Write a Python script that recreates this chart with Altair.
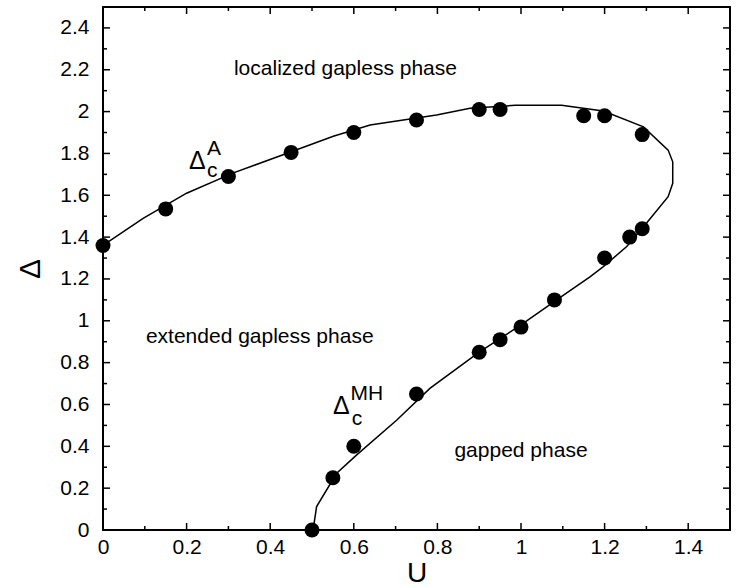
import altair as alt
import pandas as pd

# Computed critical points (filled circles)
U_POINTS = [0.00, 0.15, 0.30, 0.45, 0.60, 0.75, 0.90, 0.95, 1.15, 1.20, 1.29,
            1.29, 1.26, 1.20, 1.08, 1.00, 0.95, 0.90, 0.75, 0.60, 0.55, 0.50]
DELTA_POINTS = [1.36, 1.535, 1.69, 1.805, 1.90, 1.96, 2.01, 2.01, 1.98, 1.98, 1.89,
                1.44, 1.40, 1.30, 1.10, 0.97, 0.91, 0.85, 0.65, 0.40, 0.25, 0.00]

# Phase boundary curve, ordered along the path
U_CURVE = [0.000, 0.096, 0.200, 0.312, 0.439, 0.551, 0.639, 0.798, 0.878, 0.986,
           1.097, 1.197, 1.293, 1.352, 1.363, 1.363, 1.352, 1.300, 1.253, 1.197,
           1.165, 1.100, 1.000, 0.900, 0.782, 0.703, 0.607, 0.559, 0.511, 0.505, 0.505]
DELTA_CURVE = [1.360, 1.490, 1.610, 1.707, 1.800, 1.882, 1.936, 1.984, 2.016, 2.030,
               2.030, 2.003, 1.927, 1.816, 1.760, 1.657, 1.593, 1.466, 1.355, 1.259,
               1.210, 1.120, 0.980, 0.850, 0.677, 0.526, 0.359, 0.271, 0.112, 0.032, 0.000]

# Axis ticks
X_LABELS = [0, 0.2, 0.4, 0.6, 0.8, 1.0, 1.2, 1.4]
Y_LABELS = [0, 0.2, 0.4, 0.6, 0.8, 1.0, 1.2, 1.4, 1.6, 1.8, 2.0, 2.2, 2.4]
X_MAJOR = [0.2, 0.4, 0.6, 0.8, 1.0, 1.2, 1.4]
X_MINOR = [0.1, 0.3, 0.5, 0.7, 0.9, 1.1, 1.3]
Y_MAJOR = [0.2, 0.4, 0.6, 0.8, 1.0, 1.2, 1.4, 1.6, 1.8, 2.0, 2.2, 2.4]
Y_MINOR = [0.1, 0.3, 0.5, 0.7, 0.9, 1.1, 1.3, 1.5, 1.7, 1.9, 2.1, 2.3]

# Region labels
PHASE_TEXT = ["localized gapless phase", "extended gapless phase", "gapped phase"]
PHASE_U = [0.58, 0.375, 1.0]
PHASE_D = [2.173, 0.894, 0.35]

# Critical-line labels: Δ with sub/superscripts
DELTA_TEXT = ["Δ", "Δ"]
DELTA_U = [0.206, 0.55]
DELTA_D = [1.726, 0.554]
SUP_TEXT = ["A", "MH"]
SUP_U = [0.249, 0.592]
SUP_D = [1.793, 0.621]
SUB_TEXT = ["c", "c"]
SUB_U = [0.249, 0.595]
SUB_D = [1.687, 0.502]

U_MAX, D_MAX = 1.5, 2.5

x_scale = alt.Scale(domain=[0, U_MAX], nice=False, zero=False)
y_scale = alt.Scale(domain=[0, D_MAX], nice=False, zero=False)

x_axis = alt.Axis(values=X_LABELS, format="~g", ticks=False, domain=False, grid=False,
                  labelFontSize=21, labelPadding=6, labelColor="black", labelFlush=False,
                  titleFontSize=28, titleFontWeight="normal", titleColor="black",
                  titleBaseline="alphabetic", titleY=51)
y_axis = alt.Axis(values=Y_LABELS, format="~g", ticks=False, domain=False, grid=False,
                  labelFontSize=21, labelPadding=14, labelColor="black", labelFlush=False,
                  titleFontSize=30, titleFontWeight="normal", titleColor="black",
                  titleX=-73, titleY=261.5, titleBaseline="middle", titleAngle=-90)


def X(field):
    return alt.X(field, scale=x_scale, axis=x_axis, title="U")


def Y(field):
    return alt.Y(field, scale=y_scale, axis=y_axis, title="Δ")


curve_df = pd.DataFrame({"u": U_CURVE, "delta": DELTA_CURVE, "i": range(len(U_CURVE))})
pts_df = pd.DataFrame({"u": U_POINTS, "delta": DELTA_POINTS})

curve = alt.Chart(curve_df).mark_line(color="black", strokeWidth=1.5).encode(
    x=X("u:Q"), y=Y("delta:Q"), order="i:Q",
)

points = alt.Chart(pts_df).mark_circle(color="black", size=225, opacity=1).encode(
    x=X("u:Q"), y=Y("delta:Q"),
)


def x_ticks(values, edge, length):
    df = pd.DataFrame({"u": values})
    return alt.Chart(df).mark_rule(color="black", strokeWidth=1.5, y2Offset=length).encode(
        x=X("u:Q"),
        y=alt.YDatum(edge, scale=y_scale, axis=y_axis, title="Δ"),
        y2=alt.Y2Datum(edge),
    )


def y_ticks(values, edge, length):
    df = pd.DataFrame({"delta": values})
    return alt.Chart(df).mark_rule(color="black", strokeWidth=1.5, x2Offset=length).encode(
        y=Y("delta:Q"),
        x=alt.XDatum(edge, scale=x_scale, axis=x_axis, title="U"),
        x2=alt.X2Datum(edge),
    )


MAJOR, MINOR = 7, 4
ticks = [
    x_ticks(X_MAJOR, 0, -MAJOR), x_ticks(X_MINOR, 0, -MINOR),
    x_ticks(X_MAJOR, D_MAX, MAJOR), x_ticks(X_MINOR, D_MAX, MINOR),
    y_ticks(Y_MAJOR, 0, MAJOR), y_ticks(Y_MINOR, 0, MINOR),
    y_ticks(Y_MAJOR, U_MAX, -MAJOR), y_ticks(Y_MINOR, U_MAX, -MINOR),
]


def text_layer(texts, us, ds, size, align):
    df = pd.DataFrame({"u": us, "delta": ds, "label": texts})
    return alt.Chart(df).mark_text(
        fontSize=size, align=align, baseline="alphabetic", color="black"
    ).encode(
        x=X("u:Q"), y=Y("delta:Q"), text="label:N",
    )


phases = text_layer(PHASE_TEXT, PHASE_U, PHASE_D, 21, "center")
deltas = text_layer(DELTA_TEXT, DELTA_U, DELTA_D, 25, "left")
sups = text_layer(SUP_TEXT, SUP_U, SUP_D, 21, "left")
subs = text_layer(SUB_TEXT, SUB_U, SUB_D, 21, "left")

chart = alt.layer(curve, *ticks, points, phases, deltas, sups, subs).properties(
    width=627,
    height=523,
    autosize=alt.AutoSizeParams(type="none"),
    padding={"left": 103, "top": 7, "right": 9, "bottom": 56},
    background="white",
).configure(
    font="Liberation Sans",
).configure_view(
    stroke="black",
    strokeWidth=2,
)

chart.save("out.html", embed_options={"renderer": "svg", "actions": False})
